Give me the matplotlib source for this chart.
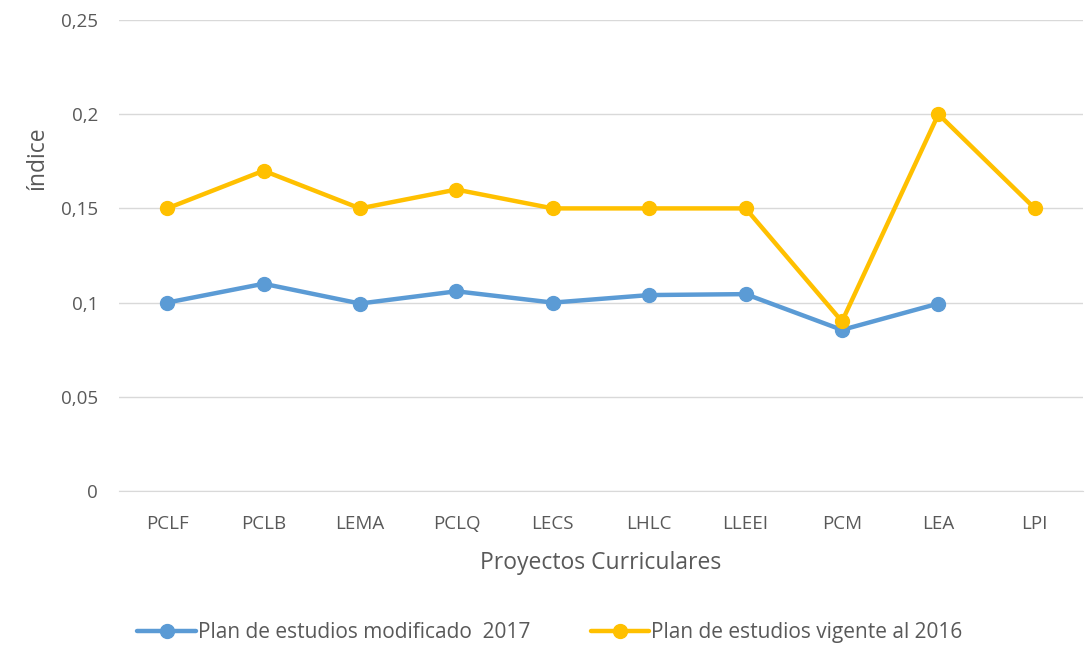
import numpy as np
from matplotlib import pyplot as plt

# data
proyectos = ['PCLF', 'PCLB', 'LEMA', 'PCLQ', 'LECS', 'LHLC', 'LLEEI', 'PCM', 'LEA', 'LPI']
plan_2017 = [0.100, 0.110, 0.0995, 0.106, 0.100, 0.104, 0.1045, 0.0855, 0.0995, np.nan]
plan_2016 = [0.150, 0.170, 0.150, 0.160, 0.150, 0.150, 0.150, 0.090, 0.200, 0.150]
yticks = [0, 0.05, 0.1, 0.15, 0.2, 0.25]
ytick_labels = ['0', '0,05', '0,1', '0,15', '0,2', '0,25']

plt.rcParams['font.family'] = ['Open Sans', 'DejaVu Sans']

fig = plt.figure(figsize=(10.89, 6.46), dpi=100)
ax = fig.add_axes([119 / 1089, 1 - 491 / 646, (1083 - 119) / 1089, (491 - 20) / 646])

x = np.arange(len(proyectos))
ax.plot(x, plan_2017, color='#5B9BD5', lw=3.2, marker='o', ms=10,
        label='Plan de estudios modificado  2017', solid_capstyle='round')
ax.plot(x, plan_2016, color='#FFC000', lw=3.2, marker='o', ms=10,
        label='Plan de estudios vigente al 2016', solid_capstyle='round')

ax.set_xlim(-0.5, len(proyectos) - 0.5)
ax.set_ylim(0, 0.25)
ax.set_xticks(x)
ax.set_xticklabels(proyectos)
ax.set_yticks(yticks)
ax.set_yticklabels(ytick_labels)
ax.grid(axis='y', color='#D9D9D9', lw=1)
ax.set_axisbelow(True)
for s in ['top', 'right', 'left']:
    ax.spines[s].set_visible(False)
ax.spines['bottom'].set_color('#D9D9D9')
ax.tick_params(length=0, labelsize=13.5, colors='#595959')
ax.tick_params(axis='x', pad=17)
ax.tick_params(axis='y', pad=15)

ax.set_xlabel('Proyectos Curriculares', fontsize=16.5, color='#595959', labelpad=13)
ax.set_ylabel('índice', fontsize=16.5, color='#595959')
ax.yaxis.set_label_coords(-0.072, 0.707)

ax.legend(loc='center', bbox_to_anchor=(0.447, -0.30), ncol=2, frameon=False,
          fontsize=15, labelcolor='#595959', handlelength=2.8, handletextpad=0.1,
          columnspacing=2.9)

plt.savefig('out.png', dpi=100)
